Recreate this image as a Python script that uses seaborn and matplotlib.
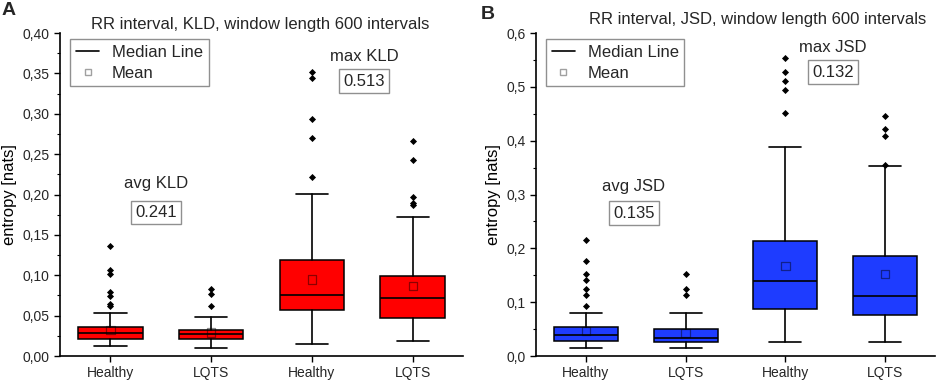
import numpy as np
import seaborn as sns
import matplotlib
matplotlib.use('Agg')
import matplotlib.pyplot as plt
from matplotlib.lines import Line2D
from matplotlib.ticker import MultipleLocator, FuncFormatter

# Category labels (two Healthy/LQTS pairs: avg and max entropy)
groups = ['Healthy', 'LQTS', 'Healthy', 'LQTS']

# Panel A: KLD box statistics
kld_low = [0.0124, 0.0099, 0.0148, 0.0180]
kld_q1 = [0.0210, 0.0210, 0.0565, 0.0466]
kld_med = [0.0290, 0.0270, 0.0759, 0.0713]
kld_q3 = [0.0360, 0.0326, 0.1184, 0.0994]
kld_high = [0.0536, 0.0480, 0.2010, 0.1720]
kld_mean = [0.0320, 0.0290, 0.0948, 0.0870]
kld_outliers = [
    [0.1365, 0.107, 0.101, 0.079, 0.0746, 0.065, 0.062],
    [0.0825, 0.0767, 0.0623],
    [0.352, 0.344, 0.293, 0.2705, 0.2214],
    [0.2668, 0.2429, 0.1967, 0.190, 0.187],
]

# Panel B: JSD box statistics
jsd_low = [0.0148, 0.0148, 0.0266, 0.0266]
jsd_q1 = [0.0272, 0.0254, 0.0878, 0.0754]
jsd_med = [0.0383, 0.0340, 0.1385, 0.1120]
jsd_q3 = [0.0532, 0.0507, 0.2146, 0.1860]
jsd_high = [0.0804, 0.0790, 0.3878, 0.3525]
jsd_mean = [0.0464, 0.0427, 0.1670, 0.1528]
jsd_outliers = [
    [0.216, 0.177, 0.153, 0.141, 0.124, 0.113, 0.093],
    [0.1515, 0.125, 0.114],
    [0.553, 0.5275, 0.510, 0.495, 0.4515],
    [0.446, 0.4218, 0.408, 0.3556],
]

# p-value style annotations
kld_notes = ['avg KLD', 'max KLD']
kld_note_vals = ['0.241', '0.513']
jsd_notes = ['avg JSD', 'max JSD']
jsd_note_vals = ['0.135', '0.132']

sns.set_theme(style='ticks')
plt.rcParams['font.family'] = ['Liberation Sans', 'DejaVu Sans']


def draw_panel(ax, low, q1, med, q3, high, mean, outliers, color, ymax, major, minor, fmt,
               notes, note_vals, note_x, note_y, box_y):
    stats = []
    for i in range(len(groups)):
        stats.append(dict(label=groups[i], whislo=low[i], q1=q1[i], med=med[i],
                          q3=q3[i], whishi=high[i], fliers=[]))
    pos = np.arange(len(groups))
    ax.bxp(stats, positions=pos, widths=0.64, capwidths=0.32, patch_artist=True,
           showfliers=False,
           boxprops=dict(facecolor=color, edgecolor='black', linewidth=1.1),
           medianprops=dict(color='black', linewidth=1.2),
           whiskerprops=dict(color='black', linewidth=1.2),
           capprops=dict(color='black', linewidth=1.2))

    # outliers
    ox, oy = [], []
    for i, vals in enumerate(outliers):
        ox += [i] * len(vals)
        oy += vals
    sns.scatterplot(x=ox, y=oy, ax=ax, marker='D', color='black', s=13,
                    linewidth=0, legend=False, zorder=4)

    # means
    sns.scatterplot(x=pos, y=mean, ax=ax, marker='s', s=36, fc='none',
                    ec=(0, 0, 0, 0.45), linewidth=0.9, legend=False, zorder=5)

    ax.set_xlim(-0.5, 3.5)
    ax.set_ylim(0, ymax)
    ax.set_xticks(pos)
    ax.set_xticklabels(groups, fontsize=10)
    ax.yaxis.set_major_locator(MultipleLocator(major))
    ax.yaxis.set_minor_locator(MultipleLocator(minor))
    ax.yaxis.set_major_formatter(FuncFormatter(lambda v, p: fmt.format(v).replace('.', ',')))
    ax.tick_params(axis='y', labelsize=10)
    ax.tick_params(which='major', direction='out', length=4, width=1, color='black')
    ax.tick_params(which='minor', direction='out', length=2.5, width=0.8, color='black')
    for s in ['left', 'bottom']:
        ax.spines[s].set_color('black')
        ax.spines[s].set_linewidth(1.2)
    sns.despine(ax=ax)
    ax.set_ylabel('entropy [nats]', fontsize=12, color='black')
    ax.set_xlabel('')

    for k in range(2):
        ax.text(note_x[k], note_y[k], notes[k], ha='center', va='center', fontsize=12)
        ax.text(note_x[k], box_y[k], note_vals[k], ha='center', va='center', fontsize=12,
                bbox=dict(boxstyle='square,pad=0.25', fc='white', ec='#909090', lw=1))

    handles = [Line2D([], [], color='black', lw=1.2),
               Line2D([], [], marker='s', ls='none', mfc='none', mec='#a0a0a0', ms=5)]
    leg = ax.legend(handles, ['Median Line', 'Mean'], loc='upper left',
                    bbox_to_anchor=(0.025, 0.982), borderaxespad=0, fontsize=12,
                    frameon=True, fancybox=False, framealpha=1, edgecolor='#909090',
                    handlelength=1.4, handletextpad=0.75, borderpad=0.35,
                    labelspacing=0.35)
    leg.get_frame().set_linewidth(1)


fig = plt.figure(figsize=(9.41, 3.82), dpi=100)
axA = fig.add_axes([0.0638, 0.068, 0.4283, 0.8455])
axB = fig.add_axes([0.5696, 0.068, 0.4240, 0.8455])

draw_panel(axA, kld_low, kld_q1, kld_med, kld_q3, kld_high, kld_mean, kld_outliers,
           '#ff0000', 0.40, 0.05, 0.025, '{:.2f}', kld_notes, kld_note_vals,
           [0.455, 2.52], [0.214, 0.3715], [0.178, 0.3406])
draw_panel(axB, jsd_low, jsd_q1, jsd_med, jsd_q3, jsd_high, jsd_mean, jsd_outliers,
           '#1e3cff', 0.6, 0.1, 0.05, '{:.1f}', jsd_notes, jsd_note_vals,
           [0.48, 2.48], [0.314, 0.574], [0.2656, 0.5276])

fig.text(0.2763, 0.937, 'RR interval, KLD, window length 600 intervals', ha='center',
         va='center', fontsize=12)
fig.text(0.8055, 0.948, 'RR interval, JSD, window length 600 intervals', ha='center',
         va='center', fontsize=12)
fig.text(0.002, 0.995, 'A', ha='left', va='top', fontsize=14, fontweight='bold')
fig.text(0.511, 0.985, 'B', ha='left', va='top', fontsize=14, fontweight='bold')

fig.savefig('out.png', dpi=100)
